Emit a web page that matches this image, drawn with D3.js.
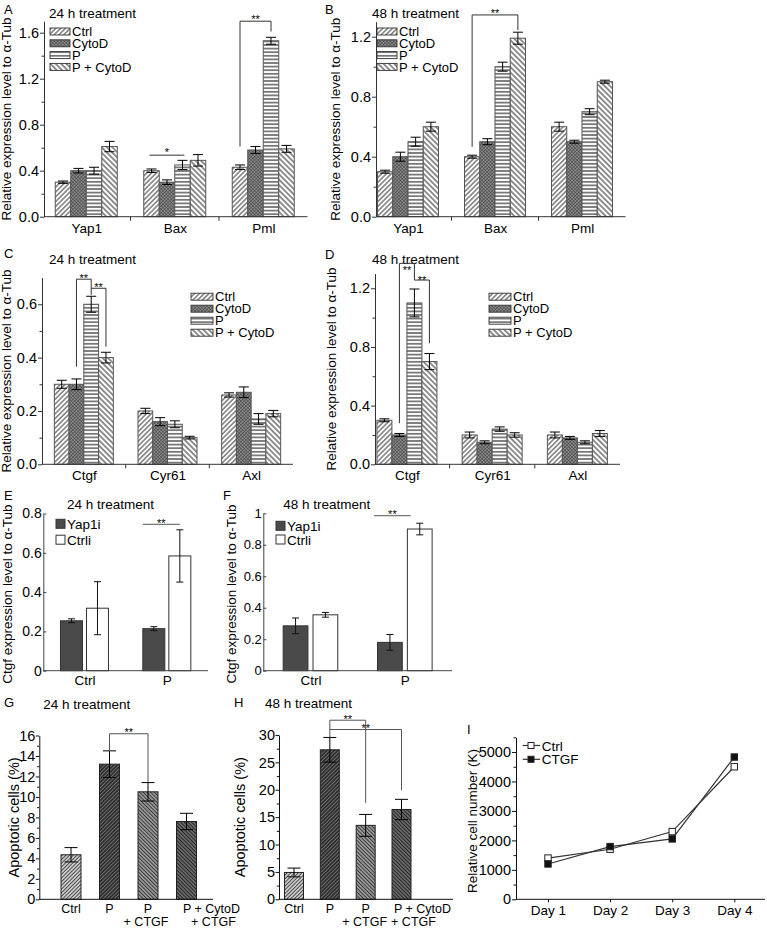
<!DOCTYPE html>
<html><head><meta charset="utf-8">
<script src="https://cdn.jsdelivr.net/npm/d3@7"></script>
<style>body{margin:0;background:#fff}svg{display:block}</style>
</head><body><svg id="c" width="767" height="931"></svg>
<script>
// ---------- DATA ----------
const treatments = ["Ctrl", "CytoD", "P", "P + CytoD"];
const genesAB = ["Yap1", "Bax", "Pml"];
const genesCD = ["Ctgf", "Cyr61", "Axl"];
const A_mean = [[0.30, 0.40, 0.40, 0.61], [0.40, 0.30, 0.45, 0.49], [0.43, 0.58, 1.53, 0.59]];
const A_err  = [[0.01, 0.02, 0.03, 0.045], [0.015, 0.02, 0.04, 0.05], [0.02, 0.03, 0.03, 0.03]];
const B_mean = [[0.30, 0.40, 0.50, 0.60], [0.40, 0.50, 1.00, 1.19], [0.60, 0.50, 0.70, 0.90]];
const B_err  = [[0.01, 0.03, 0.03, 0.03], [0.01, 0.02, 0.03, 0.04], [0.03, 0.01, 0.02, 0.01]];
const C_mean = [[0.30, 0.30, 0.60, 0.40], [0.20, 0.16, 0.15, 0.10], [0.26, 0.27, 0.17, 0.19]];
const C_err  = [[0.015, 0.02, 0.03, 0.02], [0.01, 0.015, 0.013, 0.005], [0.008, 0.02, 0.02, 0.012]];
const D_mean = [[0.30, 0.20, 1.10, 0.70], [0.20, 0.15, 0.24, 0.20], [0.20, 0.18, 0.15, 0.21]];
const D_err  = [[0.01, 0.01, 0.095, 0.055], [0.02, 0.01, 0.015, 0.015], [0.02, 0.01, 0.01, 0.02]];
const AB_ticksA = [0, 0.4, 0.8, 1.2, 1.6], AB_minorA = [0.2, 0.6, 1.0, 1.4];
const AB_ticksB = [0, 0.4, 0.8, 1.2], AB_minorB = [0.2, 0.6, 1.0];
const C_ticks = [0, 0.2, 0.4, 0.6], C_minor = [0.1, 0.3, 0.5];
const D_ticks = [0, 0.4, 0.8, 1.2], D_minor = [0.2, 0.6, 1.0];

const EF_groups = ["Ctrl", "P"];
const EF_series = ["Yap1i", "Ctrli"];
const E_mean = [[0.254, 0.318], [0.214, 0.584]];
const E_err  = [[0.01, 0.135], [0.01, 0.133]];
const F_mean = [[0.285, 0.355], [0.18, 0.90]];
const F_err  = [[0.05, 0.015], [0.05, 0.037]];
const E_ticks = [0, 0.2, 0.4, 0.6, 0.8];
const F_ticks = [0, 0.2, 0.4, 0.6, 0.8, 1];

const GH_cats = ["Ctrl", "P", "P\n+ CTGF", "P + CytoD\n+ CTGF"];
const G_mean = [4.35, 13.2, 10.5, 7.6];
const G_err  = [0.7, 1.3, 0.9, 0.8];
const H_mean = [4.9, 27.3, 13.5, 16.4];
const H_err  = [0.8, 2.25, 2.0, 1.85];
const G_ticks = [0, 2, 4, 6, 8, 10, 12, 14, 16], G_minor = [1, 3, 5, 7, 9, 11, 13, 15];
const H_ticks = [0, 5, 10, 15, 20, 25, 30], H_minor = [2.5, 7.5, 12.5, 17.5, 22.5, 27.5];

const I_days = ["Day 1", "Day 2", "Day 3", "Day 4"];
const I_ctrl = [1400, 1700, 2300, 4500];
const I_ctgf = [1200, 1790, 2050, 4830];
const I_ticks = [0, 1000, 2000, 3000, 4000, 5000];
const I_minor = [500, 1500, 2500, 3500, 4500, 5500];

// ---------- SETUP ----------
const FONT = "Arial, 'Liberation Sans', Helvetica, sans-serif";
const svg = d3.select("#c").attr("font-family", FONT);
svg.append("rect").attr("width", 767).attr("height", 931).attr("fill", "#fff");
const defs = svg.append("defs");
function linePat(id, angle, s, color, w, bg) {
  const p = defs.append("pattern").attr("id", id).attr("patternUnits", "userSpaceOnUse")
    .attr("width", s).attr("height", s).attr("patternTransform", `rotate(${angle})`);
  p.append("rect").attr("width", s).attr("height", s).attr("fill", bg);
  p.append("line").attr("x1", s / 2).attr("y1", 0).attr("x2", s / 2).attr("y2", s)
    .attr("stroke", color).attr("stroke-width", w);
}
linePat("pCtrl", 45, 3.4, "#222", 0.9, "#fff");
linePat("pP", 90, 3.6, "#222", 1.1, "#fff");
linePat("pPC", -45, 3.8, "#222", 1.0, "#fff");
{
  const s = 2.4;
  const p = defs.append("pattern").attr("id", "pCyto").attr("patternUnits", "userSpaceOnUse")
    .attr("width", s).attr("height", s).attr("patternTransform", "rotate(45)");
  p.append("rect").attr("width", s).attr("height", s).attr("fill", "#8c8c8c");
  p.append("line").attr("x1", 0).attr("y1", 0).attr("x2", 0).attr("y2", s).attr("stroke", "#2a2a2a").attr("stroke-width", 0.8);
  p.append("line").attr("x1", 0).attr("y1", 0).attr("x2", s).attr("y2", 0).attr("stroke", "#2a2a2a").attr("stroke-width", 0.8);
}
const pats = ["pCtrl", "pCyto", "pP", "pPC"];
linePat("gCtrl", 45, 2.6, "#444", 0.9, "#c8c8c8");
linePat("gP", 45, 2.6, "#777", 0.8, "#2e2e2e");
linePat("gPC", -45, 2.6, "#333", 1.0, "#a0a0a0");
linePat("gPCC", -45, 2.6, "#222", 1.0, "#6e6e6e");
const gpats = ["gCtrl", "gP", "gPC", "gPCC"];

function styleAxis(sel, fs, color) {
  sel.attr("font-family", FONT).attr("font-size", fs);
  sel.selectAll("path,line").attr("stroke", color).attr("stroke-width", 1);
  sel.selectAll("text").attr("fill", "#000");
}
function txt(g, x, y, s, fs, anchor) {
  return g.append("text").attr("x", x).attr("y", y).attr("font-size", fs)
    .attr("text-anchor", anchor || "start").attr("fill", "#000").text(s);
}
function ylabel(g, x, yc, s, fs) {
  g.append("text").attr("transform", `translate(${x},${yc}) rotate(-90)`)
    .attr("text-anchor", "middle").attr("font-size", fs).attr("fill", "#000").text(s);
}
function errbar(g, xc, y, v, e, cap, color) {
  const c = color || "#000";
  g.append("line").attr("x1", xc).attr("x2", xc).attr("y1", y(v + e)).attr("y2", y(v - e)).attr("stroke", c);
  [v + e, v - e].forEach(t => g.append("line").attr("x1", xc - cap / 2).attr("x2", xc + cap / 2)
    .attr("y1", y(t)).attr("y2", y(t)).attr("stroke", c));
}

// ---------- GROUPED PANELS A-D ----------
function grouped(p) {
  const g = svg.append("g");
  const x0 = d3.scalePoint().domain(p.genes).range(p.xr).padding(0.5);
  const x1 = d3.scaleBand().domain(treatments).range([-p.gw / 2, p.gw / 2]);
  const y = d3.scaleLinear().domain([0, p.ymax]).range(p.yr);
  const bw = x1.bandwidth();
  p.genes.forEach((gene, i) => {
    treatments.forEach((t, j) => {
      const v = p.mean[i][j], e = p.err[i][j];
      const xl = x0(gene) + x1(t);
      g.append("rect").attr("x", xl).attr("y", y(v)).attr("width", bw).attr("height", y(0) - y(v))
        .attr("fill", `url(#${pats[j]})`).attr("stroke", "#555").attr("stroke-width", 1);
      errbar(g, xl + bw / 2, y, v, e, 10);
    });
  });
  const ya = g.append("g").attr("transform", `translate(${p.ax},0)`)
    .call(d3.axisLeft(y).tickValues(p.ticks).tickFormat(d3.format(".1f")).tickSize(4).tickPadding(1).tickSizeOuter(0));
  styleAxis(ya, 14.5, "#333");
  const ym = g.append("g").attr("transform", `translate(${p.ax},0)`)
    .call(d3.axisLeft(y).tickValues(p.minor).tickFormat("").tickSize(2.5));
  ym.select(".domain").remove(); styleAxis(ym, 10, "#333");
  g.append("line").attr("x1", p.ax).attr("x2", p.xr[1]).attr("y1", y(0)).attr("y2", y(0)).attr("stroke", "#333");
  const xa = g.append("g").attr("transform", `translate(0,${y(0)})`)
    .call(d3.axisBottom(x0).tickSize(0).tickPadding(6.5));
  xa.select(".domain").remove(); styleAxis(xa, 13.5, "#333");
  for (let k = 1; k < p.genes.length; k++) {
    const xb = p.xr[0] + x0.step() * k;
    g.append("line").attr("x1", xb).attr("x2", xb).attr("y1", y(0)).attr("y2", y(0) + 4).attr("stroke", "#333");
  }
  ylabel(g, p.ylx, (p.yr[0] + p.yr[1]) / 2, "Relative expression level to α-Tub", 13.5);
  treatments.forEach((t, j) => {
    const yy = p.ly + j * p.ldy;
    g.append("rect").attr("x", p.lx).attr("y", yy - 3.5).attr("width", p.lw).attr("height", 7)
      .attr("fill", `url(#${pats[j]})`).attr("stroke", "#333").attr("stroke-width", 0.9);
    txt(g, p.lx + p.lw + 2, yy + 4.6, t, 13);
  });
  txt(g, p.tx, p.ty, p.title, 13.5);
  txt(g, p.letter[0], p.letter[1], p.letter[2], 13);
  p.sig.forEach(s => {
    const gx = x0(p.genes[s.g]);
    const xa_ = gx + x1(treatments[s.from]) + bw / 2, xb_ = gx + x1(treatments[s.to]) + bw / 2;
    let d;
    if (s.line) d = `M${xa_ - 2},${y(s.top)}H${xb_ + 2}`;
    else if (s.y1 != null) d = `M${xa_},${y(s.y1)}V${y(s.top)}H${xb_}V${y(s.y2)}`;
    else d = `M${xa_},${y(s.top)}H${xb_}V${y(s.y2)}`;
    g.append("path").attr("d", d).attr("fill", "none").attr("stroke", "#333").attr("stroke-width", 1);
    txt(g, (xa_ + xb_) / 2, y(s.top) + s.dy, s.label, 11, "middle");
  });
}

grouped({genes: genesAB, mean: A_mean, err: A_err, xr: [42, 307.5], gw: 62, ymax: 1.7, yr: [216.7, 21.2],
  ax: 44, ticks: AB_ticksA, minor: AB_minorA, ylx: 11, lx: 50, ly: 31.5, ldy: 11.8, lw: 20,
  tx: 49, ty: 17.5, title: "24 h treatment", letter: [4, 14, "A"],
  sig: [{g: 1, from: 0, to: 2, line: true, top: 0.535, dy: 1, label: "*"},
        {g: 2, from: 0, to: 2, y1: 0.61, top: 1.70, y2: 1.61, dy: 2, label: "**"}]});
grouped({genes: genesAB, mean: B_mean, err: B_err, xr: [364.5, 625.5], gw: 61, ymax: 1.3, yr: [216.7, 21.7],
  ax: 376, ticks: AB_ticksB, minor: AB_minorB, ylx: 340, lx: 377, ly: 31.5, ldy: 11.8, lw: 20,
  tx: 372, ty: 17.5, title: "48 h treatment", letter: [325, 14, "B"],
  sig: [{g: 1, from: 0, to: 3, y1: 0.465, top: 1.345, y2: 1.245, dy: 2, label: "**"}]});
grouped({genes: genesCD, mean: C_mean, err: C_err, xr: [42, 293], gw: 59, ymax: 0.7, yr: [464.3, 277.6],
  ax: 42, ticks: C_ticks, minor: C_minor, ylx: 11, lx: 191, ly: 296.7, ldy: 12, lw: 22,
  tx: 49, ty: 263.5, title: "24 h treatment", letter: [4, 258, "C"],
  sig: [{g: 0, from: 1, to: 2, y1: 0.366, top: 0.694, y2: 0.635, dy: 2.5, label: "**"},
        {g: 0, from: 2, to: 3, y1: null, top: 0.66, y2: 0.441, dy: 2.5, label: "**"}]});
grouped({genes: genesCD, mean: D_mean, err: D_err, xr: [364.3, 620], gw: 60, ymax: 1.3, yr: [464.3, 273.6],
  ax: 375, ticks: D_ticks, minor: D_minor, ylx: 336, lx: 489, ly: 296.7, ldy: 12, lw: 22,
  tx: 372, ty: 263.5, title: "48 h treatment", letter: [325, 259, "D"],
  sig: [{g: 0, from: 1, to: 2, y1: 0.28, top: 1.37, y2: 1.256, dy: 11, label: "**"},
        {g: 0, from: 2, to: 3, y1: null, top: 1.256, y2: 0.825, dy: 3.5, label: "**"}]});

// ---------- E / F ----------
function efPanel(p) {
  const g = svg.append("g");
  const x0 = d3.scalePoint().domain(EF_groups).range(p.xr).padding(0.5);
  const x1 = d3.scaleBand().domain(EF_series).range([-p.gw / 2, p.gw / 2]).paddingInner(p.pin);
  const y = d3.scaleLinear().domain([0, p.ymax]).range(p.yr);
  const bw = x1.bandwidth();
  EF_groups.forEach((gr, i) => {
    EF_series.forEach((s, j) => {
      const v = p.mean[i][j], e = p.err[i][j];
      const xl = x0(gr) + x1(s);
      g.append("rect").attr("x", xl).attr("y", y(v)).attr("width", bw).attr("height", y(0) - y(v))
        .attr("fill", j === 0 ? "#4a4a4a" : "#fff").attr("stroke", "#333").attr("stroke-width", 1);
      errbar(g, xl + bw / 2, y, v, e, 7, "#111");
    });
  });
  const ya = g.append("g").attr("transform", `translate(${p.ax},0)`)
    .call(d3.axisLeft(y).tickValues(p.ticks).tickFormat(d3.format("~g")).tickSize(-3).tickPadding(1.5).tickSizeOuter(0));
  styleAxis(ya, p.tfs, "#444");
  g.append("line").attr("x1", p.ax).attr("x2", p.xr[1]).attr("y1", y(0)).attr("y2", y(0)).attr("stroke", "#444");
  const xa = g.append("g").attr("transform", `translate(0,${y(0)})`)
    .call(d3.axisBottom(x0).tickSize(0).tickPadding(5));
  xa.select(".domain").remove(); styleAxis(xa, 13.5, "#444");
  ylabel(g, p.ylx, (p.yr[0] + p.yr[1]) / 2 + 2, "Ctgf expression level to α-Tub", 13.5);
  EF_series.forEach((s, j) => {
    const yy = p.ly + j * p.ldy;
    g.append("rect").attr("x", p.lx).attr("y", yy - 4.5).attr("width", 9).attr("height", 9)
      .attr("fill", j === 0 ? "#4a4a4a" : "#fff").attr("stroke", "#333");
    txt(g, p.lx + 11, yy + 5, s, 13.5);
  });
  txt(g, p.tx, p.ty, p.title, 13.5);
  txt(g, p.letter[0], p.letter[1], p.letter[2], 13);
  const xs = x0("P") + x1("Yap1i") + p.sx[0], xe = x0("P") + x1("Ctrli") + p.sx[1];
  g.append("line").attr("x1", xs).attr("x2", xe).attr("y1", y(p.sy)).attr("y2", y(p.sy))
    .attr("stroke", "#777").attr("stroke-width", 1.3);
  txt(g, (xs + xe) / 2, y(p.sy) + 2.5, "**", 11, "middle");
}
efPanel({mean: E_mean, err: E_err, xr: [43.3, 208], gw: 48, pin: 0.154, ymax: 0.8, yr: [670.7, 513.5],
  ax: 43.3, ticks: E_ticks, tfs: 14, ylx: 12, lx: 56, ly: 523.8, ldy: 15.9, tx: 67, ty: 509,
  title: "24 h treatment", letter: [4, 500, "E"], sy: 0.745, sx: [0, 11]});
efPanel({mean: F_mean, err: F_err, xr: [263.3, 452], gw: 54.6, pin: 0.17, ymax: 1, yr: [670.7, 513.3],
  ax: 263.3, ticks: F_ticks, tfs: 13, ylx: 236, lx: 276, ly: 525.8, ldy: 13.7, tx: 283.3, ty: 509,
  title: "48 h treatment", letter: [223, 500, "F"], sy: 0.985, sx: [-3.4, 3.3]});

// ---------- G / H ----------
function ghPanel(p) {
  const g = svg.append("g");
  const x = d3.scalePoint().domain(GH_cats).range(p.xr);
  const y = d3.scaleLinear().domain([0, p.ymax]).range(p.yr);
  GH_cats.forEach((c, j) => {
    const v = p.mean[j], e = p.err[j];
    g.append("rect").attr("x", x(c) - p.bw / 2).attr("y", y(v)).attr("width", p.bw).attr("height", y(0) - y(v))
      .attr("fill", `url(#${gpats[j]})`).attr("stroke", "#222").attr("stroke-width", 1);
    errbar(g, x(c), y, v, e, 13);
  });
  const ya = g.append("g").attr("transform", `translate(${p.ax},0)`)
    .call(d3.axisLeft(y).tickValues(p.ticks).tickFormat(d3.format("d")).tickSize(3.5).tickPadding(0.5).tickSizeOuter(0));
  styleAxis(ya, 14.5, "#111");
  const ym = g.append("g").attr("transform", `translate(${p.ax},0)`)
    .call(d3.axisLeft(y).tickValues(p.minor).tickFormat("").tickSize(2.2));
  ym.select(".domain").remove(); styleAxis(ym, 10, "#111");
  g.append("line").attr("x1", p.ax).attr("x2", p.xend).attr("y1", y(0)).attr("y2", y(0)).attr("stroke", "#111");
  GH_cats.forEach((c, j) => {
    c.split("\n").forEach((line, k) => {
      txt(g, x(c) + p.ldx[j][k], y(0) + 14 + k * 12.5, line, 12.5, "middle");
    });
  });
  ylabel(g, p.ylx, (p.yr[0] + p.yr[1]) / 2, "Apoptotic cells (%)", 14.5);
  txt(g, p.tx, p.ty, p.title, 13.5);
  txt(g, p.letter[0], p.letter[1], p.letter[2], 13);
  p.sig.forEach(s => {
    const xa_ = x(GH_cats[s.from]), xb_ = x(GH_cats[s.to]);
    const d = s.y1 != null ? `M${xa_},${y(s.y1)}V${y(s.top)}H${xb_}V${y(s.y2)}` : `M${xa_},${y(s.top)}H${xb_}V${y(s.y2)}`;
    g.append("path").attr("d", d).attr("fill", "none").attr("stroke", "#555").attr("stroke-width", 1);
    txt(g, (xa_ + xb_) / 2, y(s.top) + 2.5, "**", 11, "middle");
  });
}
ghPanel({mean: G_mean, err: G_err, xr: [71, 186.5], bw: 20, ymax: 16, yr: [899.3, 735.5], ax: 39.3, xend: 213,
  ticks: G_ticks, minor: G_minor, ylx: 18.5, tx: 43.3, ty: 709.3, title: "24 h treatment", letter: [4, 707, "G"],
  ldx: [[0, 0], [0, 0], [0, -2], [25, 27]],
  sig: [{from: 1, to: 2, y1: 14.5, top: 16.17, y2: 11.45}]});
ghPanel({mean: H_mean, err: H_err, xr: [294, 401.5], bw: 19, ymax: 30, yr: [899.3, 735], ax: 279, xend: 453,
  ticks: H_ticks, minor: H_minor, ylx: 245, tx: 265, ty: 708.3, title: "48 h treatment", letter: [234, 707, "H"],
  ldx: [[0, 0], [0, 0], [0, -1], [21, 12]],
  sig: [{from: 1, to: 2, y1: 29.6, top: 32.7, y2: 17.6}, {from: 1, to: 3, y1: null, top: 31.0, y2: 19.9}]});

// ---------- I ----------
{
  const g = svg.append("g");
  const x = d3.scalePoint().domain(I_days).range([548, 734.3]);
  const y = d3.scaleLinear().domain([0, 5500]).range([899.3, 737.3]);
  const ya = g.append("g").attr("transform", "translate(516,0)")
    .call(d3.axisLeft(y).tickValues(I_ticks).tickFormat(d3.format("d")).tickSize(4).tickPadding(1).tickSizeOuter(0));
  styleAxis(ya, 14.5, "#111");
  const ym = g.append("g").attr("transform", "translate(516,0)")
    .call(d3.axisLeft(y).tickValues(I_minor).tickFormat("").tickSize(2.5));
  ym.select(".domain").remove(); styleAxis(ym, 10, "#111");
  g.append("line").attr("x1", 516).attr("x2", 765).attr("y1", y(0)).attr("y2", y(0)).attr("stroke", "#111");
  const xa = g.append("g").attr("transform", `translate(0,${y(0)})`)
    .call(d3.axisBottom(x).tickSize(3).tickPadding(3));
  xa.select(".domain").remove(); styleAxis(xa, 13.5, "#111");
  const line = d3.line().x((d, i) => x(I_days[i])).y(d => y(d));
  [[I_ctrl, "#fff"], [I_ctgf, "#111"]].forEach(([vals, fill]) => {
    g.append("path").attr("d", line(vals)).attr("fill", "none").attr("stroke", "#333").attr("stroke-width", 1.2);
    vals.forEach((v, i) => g.append("rect").attr("x", x(I_days[i]) - 3.2).attr("y", y(v) - 3.2)
      .attr("width", 6.4).attr("height", 6.4).attr("fill", fill).attr("stroke", "#222").attr("stroke-width", 1));
  });
  [["Ctrl", "#fff", 745.5], ["CTGF", "#111", 759.3]].forEach(([n, fill, yy]) => {
    g.append("line").attr("x1", 522.7).attr("x2", 540).attr("y1", yy).attr("y2", yy).attr("stroke", "#333").attr("stroke-width", 1.2);
    g.append("rect").attr("x", 528).attr("y", yy - 3).attr("width", 6).attr("height", 6).attr("fill", fill).attr("stroke", "#222");
    txt(g, 541.7, yy + 5, n, 13.5);
  });
  ylabel(g, 477, 821, "Relative cell number (K)", 13.5);
  txt(g, 467, 734, "I", 13);
}
</script></body></html>
